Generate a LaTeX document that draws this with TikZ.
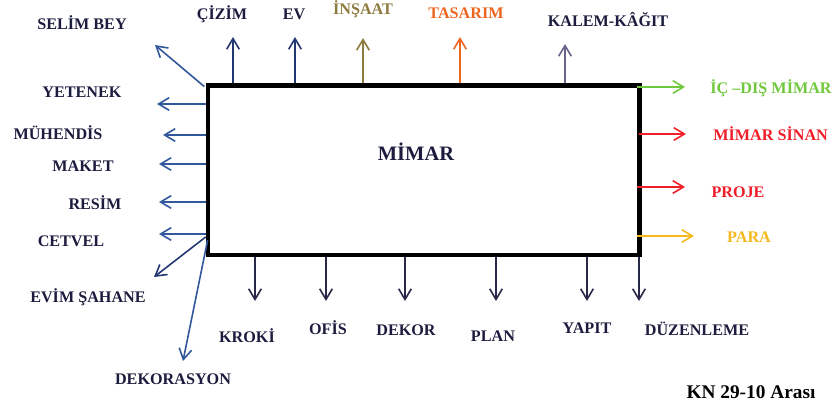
\documentclass[tikz,border=0pt]{standalone}
\usepackage{fontspec}
\setmainfont{Liberation Serif}
\usepackage{tikz}
\usetikzlibrary{arrows.meta}
\definecolor{navy}{RGB}{28,28,62}
\definecolor{leftblue}{RGB}{50,88,155}
\definecolor{topblue}{RGB}{35,55,115}
\definecolor{botnavy}{RGB}{40,40,72}
\definecolor{olive}{RGB}{140,122,62}
\definecolor{orangered}{RGB}{236,102,32}
\definecolor{greyviolet}{RGB}{105,98,138}
\definecolor{leafgreen}{RGB}{112,200,60}
\definecolor{signalred}{RGB}{240,30,40}
\definecolor{gold}{RGB}{245,185,30}

\begin{document}
\begin{tikzpicture}[x=0.3mm, y=-0.3mm,
	every node/.style={font=\bfseries\fontsize{13.8}{16}\selectfont, text=navy, inner sep=1pt},
	outarrow/.style={line width=0.48mm, -{Straight Barb[length=3.2mm,width=3.8mm]}}]
	\useasboundingbox (0,0) rectangle (839,408);
	\node[draw=black, line width=1.35mm, minimum width=129.5mm, minimum height=50.85mm] (box) at (423.75,170.25) {};
	\node[font=\bfseries\fontsize{17.5}{20}\selectfont] (mimar) at (416,152) {MİMAR};
	% left side
	\node (selim) at (82,23) {SELİM BEY};
	\node (yetenek) at (82,92) {YETENEK};
	\node (muhendis) at (58,133) {MÜHENDİS};
	\node (maket) at (83,166) {MAKET};
	\node (resim) at (95,203) {RESİM};
	\node (cetvel) at (71,241) {CETVEL};
	\node (evim) at (88,297) {EVİM ŞAHANE};
	\node (dekorasyon) at (173,379) {DEKORASYON};
	\coordinate (t-selim) at (155,45);
	\coordinate (t-yetenek) at (157,104);
	\coordinate (t-muhendis) at (163,135);
	\coordinate (t-maket) at (159,164);
	\coordinate (t-resim) at (159,202);
	\coordinate (t-cetvel) at (159,234);
	\coordinate (t-evim) at (154,277);
	\coordinate (t-dekorasyon) at (183,361);
	\draw[outarrow, leftblue] ([xshift=-0.4mm, yshift=-1mm]box.north west) -- (t-selim);
	\draw[outarrow, leftblue] (box.west |- t-yetenek) -- (t-yetenek);
	\draw[outarrow, leftblue] (box.west |- t-muhendis) -- (t-muhendis);
	\draw[outarrow, leftblue] (box.west |- t-maket) -- (t-maket);
	\draw[outarrow, leftblue] (box.west |- t-resim) -- (t-resim);
	\draw[outarrow, leftblue] (box.west |- t-cetvel) -- (t-cetvel);
	\draw[outarrow, topblue] ([yshift=-0.9mm]box.west |- t-cetvel) -- (t-evim);
	\draw[outarrow, leftblue] ([xshift=0.6mm, yshift=-1.8mm]box.west |- t-cetvel) -- (t-dekorasyon);
	% top side
	\node (cizim) at (222,14) {ÇİZİM};
	\node (ev) at (294,14) {EV};
	\node[text=olive] (insaat) at (363,9) {İNŞAAT};
	\node[text=orangered] (tasarim) at (466,13) {TASARIM};
	\node (kalem) at (608,20) {KALEM-KÂĞIT};
	\coordinate (t-cizim) at (233,37);
	\coordinate (t-ev) at (295,37);
	\coordinate (t-insaat) at (363,38);
	\coordinate (t-tasarim) at (460,37);
	\coordinate (t-kalem) at (565,44);
	\draw[outarrow, topblue] (t-cizim |- box.north) -- (t-cizim);
	\draw[outarrow, topblue] (t-ev |- box.north) -- (t-ev);
	\draw[outarrow, olive] (t-insaat |- box.north) -- (t-insaat);
	\draw[outarrow, orangered] (t-tasarim |- box.north) -- (t-tasarim);
	\draw[outarrow, greyviolet] (t-kalem |- box.north) -- (t-kalem);
	% right side
	\node[text=leafgreen, anchor=west] (icdis) at (709,88) {İÇ –DIŞ MİMAR};
	\node[text=signalred, anchor=west] (sinan) at (712,134) {MİMAR SİNAN};
	\node[text=signalred] (proje) at (738,192) {PROJE};
	\node[text=gold] (para) at (749,237) {PARA};
	\coordinate (t-icdis) at (685,87);
	\coordinate (t-sinan) at (686,134);
	\coordinate (t-proje) at (685,187);
	\coordinate (t-para) at (694,236);
	\draw[outarrow, leafgreen] ([xshift=-1.6mm]box.east |- t-icdis) -- (t-icdis);
	\draw[outarrow, signalred] ([xshift=-1mm]box.east |- t-sinan) -- (t-sinan);
	\draw[outarrow, signalred] ([xshift=-1.6mm]box.east |- t-proje) -- (t-proje);
	\draw[outarrow, gold] ([xshift=-1.6mm]box.east |- t-para) -- (t-para);
	% bottom side
	\node (kroki) at (247,336) {KROKİ};
	\node (ofis) at (328,328) {OFİS};
	\node (dekor) at (406,330) {DEKOR};
	\node (plan) at (493,336) {PLAN};
	\node (yapit) at (587,328) {YAPIT};
	\node (duzen) at (697,329) {DÜZENLEME};
	\coordinate (t-kroki) at (255,301);
	\coordinate (t-ofis) at (326,301);
	\coordinate (t-dekor) at (405,301);
	\coordinate (t-plan) at (496,301);
	\coordinate (t-yapit) at (587,301);
	\coordinate (t-duzen) at (639,301);
	\foreach \t in {kroki,ofis,dekor,plan,yapit,duzen}
		\draw[outarrow, botnavy] (t-\t |- box.south) -- (t-\t);
	\node[font=\bfseries\fontsize{16.5}{19}\selectfont, text=black] (kn) at (751,392) {KN 29-10 Arası};
\end{tikzpicture}
\end{document}
